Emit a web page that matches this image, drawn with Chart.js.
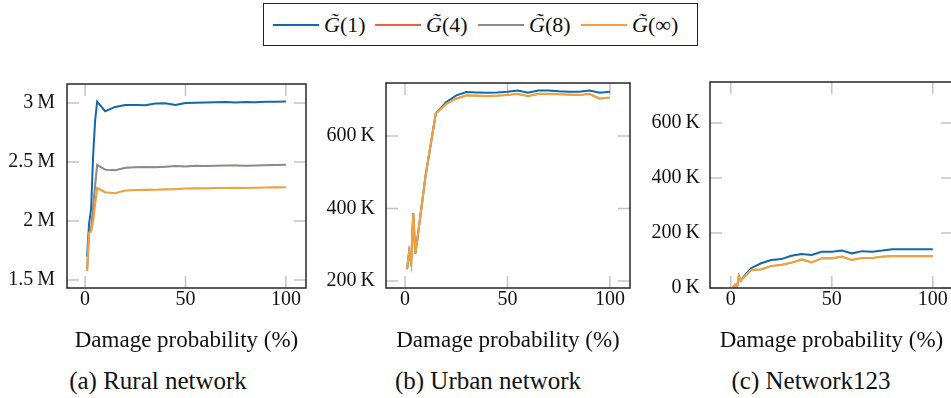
<!DOCTYPE html>
<html>
<head>
<meta charset="utf-8">
<script src="https://cdn.jsdelivr.net/npm/chart.js@4.4.0/dist/chart.umd.min.js"></script>
<style>
  body { margin: 0; width: 951px; height: 398px; overflow: hidden; background: #fff; position: relative;
         font-family: "Liberation Serif", serif; color: #111; }
  canvas { position: absolute; }
  .cap { position: absolute; top: 366px; line-height: 30px; font-size: 25px; transform: translateX(-50%); white-space: nowrap; }
  #legend { position: absolute; left: 263px; top: 3px; width: 433px; height: 41px; border: 1.5px solid #222; }
  .item { position: absolute; top: 0; height: 41px; display: flex; align-items: center; font-size: 22px; white-space: nowrap; }
  .sw { display: inline-block; width: 46px; height: 0; border-top: 2px solid; margin-right: 5px; }
</style>
</head>
<body>
<div id="legend">
  <div class="item" style="left:9px"><span class="sw" style="border-color:#1468a8"></span><span><i>G&#771;</i>(1)</span></div>
  <div class="item" style="left:111px"><span class="sw" style="border-color:#e8604a"></span><span><i>G&#771;</i>(4)</span></div>
  <div class="item" style="left:214px"><span class="sw" style="border-color:#8c8c8c"></span><span><i>G&#771;</i>(8)</span></div>
  <div class="item" style="left:317px"><span class="sw" style="border-color:#f0a03c"></span><span><i>G&#771;</i>(&#8734;)</span></div>
</div>

<canvas id="rural" width="320" height="300" style="left:0;top:60px"></canvas>
<canvas id="urban" width="320" height="300" style="left:320px;top:60px"></canvas>
<canvas id="net" width="330" height="300" style="left:640px;top:60px"></canvas>

<div class="cap" style="left:158px">(a) Rural network</div>
<div class="cap" style="left:488px">(b) Urban network</div>
<div class="cap" style="left:811px">(c) Network123</div>

<script>
// damage probability (%)
var damage = [1, 2, 3, 4, 5, 6, 10, 15, 20, 25, 30, 35, 40, 45, 50, 55, 60, 65, 70, 75, 80, 85, 90, 95, 100];

// (a) Rural network
var ruralG1 = [1.70e6, 1.98e6, 2.10e6, 2.55e6, 2.85e6, 3.01e6, 2.93e6, 2.966e6, 2.983e6, 2.983e6, 2.98e6, 2.994e6, 2.997e6,
               2.982e6, 3.0e6, 3.002e6, 3.003e6, 3.005e6, 3.008e6, 3.004e6, 3.008e6, 3.006e6, 3.01e6, 3.01e6, 3.011e6];
var ruralG4 = [1.58e6, 1.90e6, 1.93e6, 2.12e6, 2.30e6, 2.475e6, 2.435e6, 2.43e6, 2.45e6, 2.455e6, 2.457e6, 2.456e6, 2.46e6,
               2.465e6, 2.462e6, 2.468e6, 2.466e6, 2.468e6, 2.47e6, 2.471e6, 2.468e6, 2.47e6, 2.472e6, 2.475e6, 2.477e6];
var ruralG8 = [1.58e6, 1.90e6, 1.93e6, 2.12e6, 2.30e6, 2.475e6, 2.435e6, 2.43e6, 2.45e6, 2.455e6, 2.457e6, 2.456e6, 2.46e6,
               2.465e6, 2.462e6, 2.468e6, 2.466e6, 2.468e6, 2.47e6, 2.471e6, 2.468e6, 2.47e6, 2.472e6, 2.475e6, 2.477e6];
var ruralGinf = [1.58e6, 1.90e6, 1.91e6, 2.00e6, 2.14e6, 2.28e6, 2.244e6, 2.235e6, 2.258e6, 2.263e6, 2.264e6, 2.265e6, 2.268e6,
                 2.27e6, 2.275e6, 2.276e6, 2.277e6, 2.279e6, 2.28e6, 2.281e6, 2.279e6, 2.282e6, 2.284e6, 2.285e6, 2.286e6];

// (b) Urban network
var urbanG1 = [234e3, 281e3, 249e3, 387e3, 276e3, 315e3, 490e3, 662e3, 693e3, 712e3, 721e3, 720e3, 719e3,
               720e3, 722e3, 725e3, 719e3, 725e3, 725e3, 723e3, 722e3, 722e3, 725e3, 719e3, 722e3];
var urbanG4 = [234e3, 281e3, 249e3, 387e3, 276e3, 315e3, 490e3, 662e3, 688e3, 703e3, 712e3, 711e3, 710e3,
               711e3, 713e3, 716e3, 710e3, 716e3, 716e3, 715e3, 714e3, 713e3, 716e3, 703e3, 706e3];
var urbanG8 = [234e3, 281e3, 249e3, 387e3, 276e3, 315e3, 490e3, 662e3, 688e3, 703e3, 712e3, 711e3, 710e3,
               711e3, 713e3, 716e3, 710e3, 716e3, 716e3, 715e3, 714e3, 713e3, 716e3, 703e3, 706e3];
var urbanGinf = [234e3, 281e3, 249e3, 387e3, 276e3, 315e3, 490e3, 662e3, 688e3, 703e3, 712e3, 711e3, 710e3,
                 711e3, 713e3, 716e3, 710e3, 716e3, 716e3, 715e3, 714e3, 713e3, 716e3, 703e3, 706e3];

// (c) Network123
var netG1 = [0, 11e3, 0, 44e3, 27e3, 38e3, 72e3, 90e3, 102e3, 105e3, 117e3, 124e3, 120e3,
             132e3, 132e3, 136e3, 126e3, 134e3, 132e3, 136e3, 141e3, 141e3, 141e3, 141e3, 141e3];
var netG4 = [0, 11e3, 0, 44e3, 27e3, 35e3, 65e3, 68e3, 80e3, 84e3, 92e3, 104e3, 93e3,
             108e3, 108e3, 114e3, 102e3, 109e3, 109e3, 114e3, 116e3, 116e3, 116e3, 116e3, 116e3];
var netG8 = [0, 11e3, 0, 44e3, 27e3, 35e3, 65e3, 68e3, 80e3, 84e3, 92e3, 104e3, 93e3,
             108e3, 108e3, 114e3, 102e3, 109e3, 109e3, 114e3, 116e3, 116e3, 116e3, 116e3, 116e3];
var netGinf = [0, 11e3, 0, 44e3, 27e3, 35e3, 65e3, 68e3, 80e3, 84e3, 92e3, 104e3, 93e3,
               108e3, 108e3, 114e3, 102e3, 109e3, 109e3, 114e3, 116e3, 116e3, 116e3, 116e3, 116e3];

// tick labels
var xTicks = [0, 50, 100];
var ruralTicks = [1.5e6, 2e6, 2.5e6, 3e6];
var urbanTicks = [200e3, 400e3, 600e3];
var netTicks = [0, 200e3, 400e3, 600e3];

var names = ['G\u0303(1)', 'G\u0303(4)', 'G\u0303(8)', 'G\u0303(\u221e)'];
var colors = ['#1468a8', '#e8604a', '#8c8c8c', '#f0a03c'];

// frame + inner tick marks like pgfplots
var framePlugin = {
    id: 'frame',
    beforeDatasetsDraw: function (chart) {
        var ctx = chart.ctx, a = chart.chartArea, x = chart.scales.x, y = chart.scales.y;
        ctx.save();
        ctx.strokeStyle = '#c4c4c4';
        ctx.lineWidth = 1.5;
        ctx.beginPath();
        x.ticks.forEach(function (t) {
            var p = x.getPixelForValue(t.value);
            ctx.moveTo(p, a.top); ctx.lineTo(p, a.top + 12);
            ctx.moveTo(p, a.bottom); ctx.lineTo(p, a.bottom - 12);
        });
        y.ticks.forEach(function (t) {
            var p = y.getPixelForValue(t.value);
            ctx.moveTo(a.left, p); ctx.lineTo(a.left + 12, p);
            ctx.moveTo(a.right, p); ctx.lineTo(a.right - 12, p);
        });
        ctx.stroke();
        ctx.restore();
    },
    afterDatasetsDraw: function (chart) {
        var ctx = chart.ctx, a = chart.chartArea;
        ctx.save();
        ctx.strokeStyle = '#262626';
        ctx.lineWidth = 1.5;
        ctx.strokeRect(a.left, a.top, a.right - a.left, a.bottom - a.top);
        ctx.restore();
    }
};

function makeChart(id, series, widths, yTicks, unit, ymin, ymax, xmin, xmax, yWidth, labelPad, pad) {
    var datasets = series.map(function (vals, i) {
        return {
            label: names[i],
            data: damage.map(function (d, j) { return { x: d, y: vals[j] }; }),
            borderColor: colors[i],
            backgroundColor: colors[i],
            borderWidth: widths[i],
            pointRadius: 0,
            tension: 0,
            order: 3 - i
        };
    });
    new Chart(document.getElementById(id), {
        type: 'line',
        data: { datasets: datasets },
        options: {
            responsive: false,
            animation: false,
            devicePixelRatio: 1,
            layout: { padding: pad },
            plugins: { legend: { display: false }, tooltip: { enabled: false } },
            scales: {
                x: {
                    type: 'linear', min: xmin, max: xmax,
                    grid: { display: false, drawTicks: false },
                    border: { display: false },
                    afterBuildTicks: function (s) { s.ticks = xTicks.map(function (v) { return { value: v }; }); },
                    afterFit: function (s) { s.height = 66.8; },
                    ticks: { padding: 0, color: '#111', font: { family: 'Liberation Serif', size: 20 }, maxRotation: 0 },
                    title: { display: true, text: 'Damage probability (%)', color: '#111', padding: 0,
                             font: { family: 'Liberation Serif', size: 23 } }
                },
                y: {
                    type: 'linear', min: ymin, max: ymax,
                    grid: { display: false, drawTicks: false },
                    border: { display: false },
                    afterBuildTicks: function (s) { s.ticks = yTicks.map(function (v) { return { value: v }; }); },
                    afterFit: function (s) { s.width = yWidth; },
                    ticks: {
                        padding: labelPad, color: '#111', font: { family: 'Liberation Serif', size: 20 },
                        callback: function (v) { return (unit === 'M' ? v / 1e6 : v / 1e3) + '\u2009' + unit; }
                    }
                }
            }
        },
        plugins: [framePlugin]
    });
}

makeChart('rural', [ruralG1, ruralG4, ruralG8, ruralGinf], [2, 1.1, 2, 2.1], ruralTicks, 'M', 1.433e6, 3.16e6, -9, 110, 67, 12,
          { left: 0, right: 14, top: 23, bottom: 5.2 });
makeChart('urban', [urbanG1, urbanG4, urbanG8, urbanGinf], [2, 1.1, 1.1, 2.2], urbanTicks, 'K', 181e3, 746e3, -9.3, 109.8, 66, 11,
          { left: 0, right: 10, top: 19, bottom: 5.2 });
makeChart('net', [netG1, netG4, netG8, netGinf], [2, 1.1, 1.1, 2.2], netTicks, 'K', 0, 749e3, -10.3, 110, 70, 10,
          { left: 0, right: 17, top: 22, bottom: 5.2 });
</script>
</body>
</html>
